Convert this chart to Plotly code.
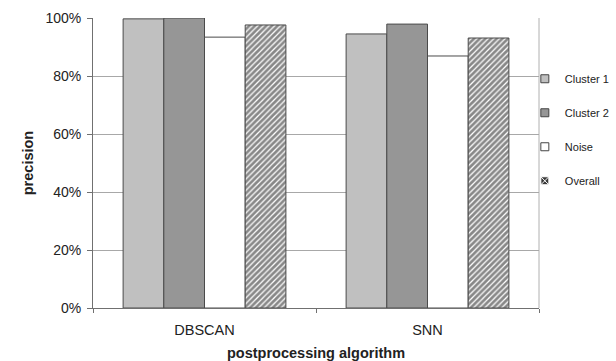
import plotly.graph_objects as go

# Precision per postprocessing algorithm
algorithms = ["DBSCAN", "SNN"]
series_names = ["Cluster 1", "Cluster 2", "Noise", "Overall"]
cluster1 = [99.7, 94.5]
cluster2 = [100.0, 97.9]
noise = [93.4, 86.9]
overall = [97.6, 93.1]
y_ticks = [0, 20, 40, 60, 80, 100]
y_tick_labels = ["0%", "20%", "40%", "60%", "80%", "100%"]

FONT = "Liberation Sans, Arial, sans-serif"
TEXT = "#222222"
OUTLINE = dict(color="#4a4a4a", width=1)

fills = ["#c0c0c0", "#969696", "#ffffff", "#ffffff"]
hatch = dict(shape="/", fgcolor="#111111", bgcolor="#ffffff",
             size=4, solidity=0.7, fillmode="overlay")
values = [cluster1, cluster2, noise, overall]

fig = go.Figure()
for name, vals, fill in zip(series_names, values, fills):
    marker = dict(color=fill, line=OUTLINE)
    if name == "Overall":
        marker["pattern"] = hatch
    fig.add_trace(go.Bar(x=algorithms, y=vals, name=name, marker=marker,
                         showlegend=False))

# Small square legend keys
legend_symbols = ["square", "square", "square", "square-x"]
legend_fills = ["#c0c0c0", "#969696", "#ffffff", "#3a3a3a"]
legend_lines = ["#444444", "#444444", "#444444", "#ffffff"]
for name, sym, fill, ln in zip(series_names, legend_symbols, legend_fills, legend_lines):
    fig.add_trace(go.Scatter(
        x=[None], y=[None], mode="markers", name=name, legendgroup=name,
        marker=dict(symbol=sym, size=8, color=fill, line=dict(color=ln, width=1)),
    ))

fig.update_layout(
    width=616, height=361,
    margin=dict(l=93, r=77, t=18, b=53, autoexpand=False),
    paper_bgcolor="white", plot_bgcolor="white",
    barmode="group", bargap=0.27, bargroupgap=0,
    font=dict(family=FONT, size=14, color=TEXT),
    showlegend=True,
    legend=dict(xref="container", yref="container", x=0.852, y=0.822,
                xanchor="left", yanchor="top",
                font=dict(size=11, color=TEXT),
                tracegroupgap=15, bgcolor="rgba(0,0,0,0)"),
    xaxis=dict(
        type="category", tickson="boundaries", ticks="outside", ticklen=4,
        tickcolor="#707070", showline=True, linecolor="#707070", linewidth=1,
        showgrid=False, tickfont=dict(size=14.5, color=TEXT),
        ticklabelstandoff=9, automargin=False,
        title=dict(text="<b>postprocessing algorithm</b>",
                   font=dict(size=14.5, color=TEXT), standoff=10),
    ),
    yaxis=dict(
        range=[0, 100], tickvals=y_ticks, ticktext=y_tick_labels,
        ticks="outside", ticklen=5, tickcolor="#707070",
        showline=True, linecolor="#707070", linewidth=1,
        showgrid=True, gridcolor="#a8a8a8", gridwidth=1,
        tickfont=dict(size=14, color=TEXT), ticklabelstandoff=3,
        automargin=False,
        title=dict(text="<b>precision</b>", font=dict(size=14.5, color=TEXT),
                   standoff=8),
        zeroline=False,
    ),
)

# Plot-area frame on the right side
fig.add_shape(type="line", xref="paper", yref="paper", x0=1, x1=1, y0=0, y1=1,
              line=dict(color="#b0b0b0", width=1), layer="below")

fig.write_html("out.html")
